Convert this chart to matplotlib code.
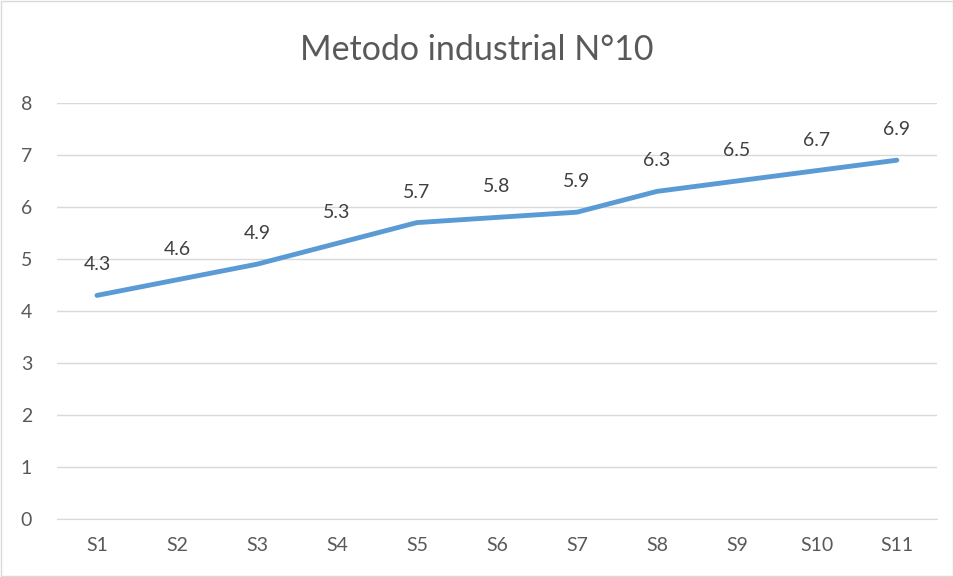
import matplotlib.pyplot as plt
import matplotlib

matplotlib.rcParams["font.family"] = ["Lato", "DejaVu Sans"]

# ---- data ----
categorias = ["S1", "S2", "S3", "S4", "S5", "S6", "S7", "S8", "S9", "S10", "S11"]
valores = [4.3, 4.6, 4.9, 5.3, 5.7, 5.8, 5.9, 6.3, 6.5, 6.7, 6.9]
titulo = "Metodo industrial N°10"

gris_texto = "#595959"
gris_grid = "#D9D9D9"
azul = "#5B9BD5"

fig = plt.figure(figsize=(9.54, 5.77), dpi=100)
ax = fig.add_axes([0.0597, 0.1005, 0.9223, 0.721])

x = list(range(len(categorias)))
ax.plot(x, valores, color=azul, linewidth=3.5, solid_capstyle="round", zorder=3)

for xi, v in zip(x, valores):
    ax.annotate(f"{v}", (xi, v), xytext=(0, 22), textcoords="offset points",
                ha="center", va="center", fontsize=14, color="#404040")

ax.set_xlim(-0.5, len(categorias) - 0.5)
ax.set_ylim(0, 8)
ax.set_yticks(range(0, 9))
ax.set_xticks(x)
ax.set_xticklabels(categorias)
ax.tick_params(axis="both", length=0, labelsize=14, colors=gris_texto)
ax.tick_params(axis="x", pad=13)
ax.tick_params(axis="y", pad=22)
for lbl in ax.get_yticklabels():
    lbl.set_horizontalalignment("center")

ax.grid(axis="y", color=gris_grid, linewidth=1)
ax.set_axisbelow(True)
for s in ["top", "right", "left"]:
    ax.spines[s].set_visible(False)
ax.spines["bottom"].set_color(gris_grid)

fig.text(0.5, 0.913, titulo, ha="center", va="center", fontsize=24.5, color=gris_texto)

# borde del gráfico
fig.patches.append(plt.Rectangle((0.001, 0.001), 0.998, 0.998, transform=fig.transFigure,
                                 fill=False, edgecolor=gris_grid, linewidth=1))

plt.savefig("out.png", dpi=100)
